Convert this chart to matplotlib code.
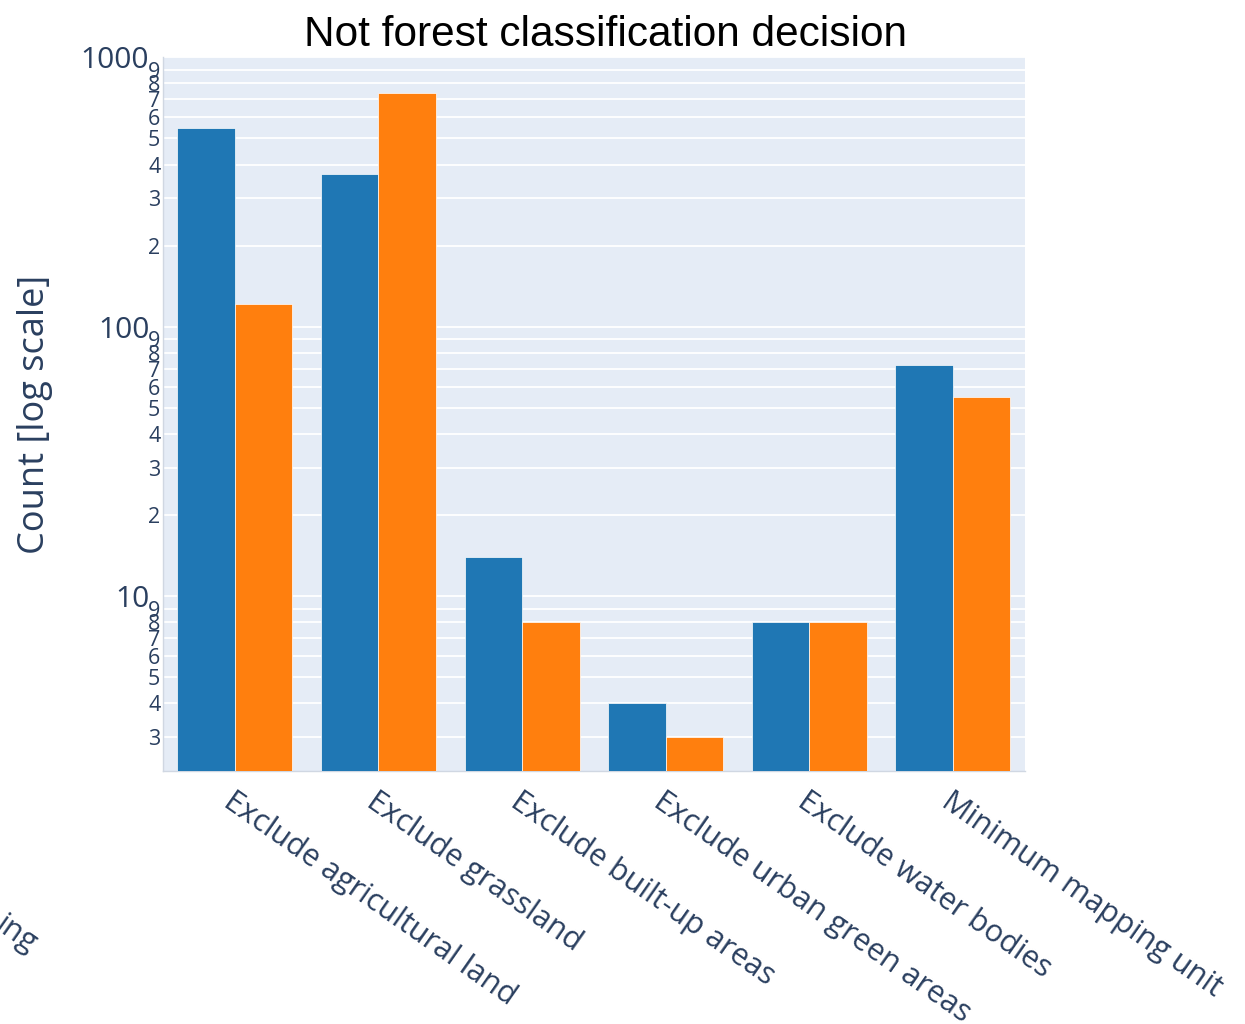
import numpy as np
import matplotlib.pyplot as plt

# categories and counts
categories = ["Exclude agricultural land", "Exclude grassland", "Exclude built-up areas",
              "Exclude urban green areas", "Exclude water bodies", "Minimum mapping unit"]
series_a = [546, 368, 14, 4, 8, 72]
series_b = [121, 735, 8, 3, 8, 55]
colors = ["#1f77b4", "#ff7f0e"]

major_ticks = [10, 100, 1000]
minor_ticks = [3, 4, 5, 6, 7, 8, 9,
               20, 30, 40, 50, 60, 70, 80, 90,
               200, 300, 400, 500, 600, 700, 800, 900]

txt = "#2a3f5f"
fig = plt.figure(figsize=(12.45, 10.24), dpi=100)
ax = fig.add_axes([0.131, 0.247, 0.692, 0.697])
ax.set_facecolor("#E5ECF6")

x = np.arange(len(categories))
w = 0.4
ax.bar(x - w / 2, series_a, width=w, color=colors[0], edgecolor="white", linewidth=0.5, zorder=3)
ax.bar(x + w / 2, series_b, width=w, color=colors[1], edgecolor="white", linewidth=0.5, zorder=3)

ax.set_yscale("log")
ax.set_ylim(10 ** 0.351, 1000)
ax.set_xlim(-0.5, len(categories) - 0.5)

ax.set_yticks(major_ticks)
ax.set_yticklabels([str(t) for t in major_ticks], fontsize=21.5, color=txt, family="Open Sans")
ax.set_yticks(minor_ticks, minor=True)
ax.set_yticklabels([str(t)[0] for t in minor_ticks], minor=True, fontsize=15.5, color=txt,
                   family="Open Sans")
ax.tick_params(axis="y", which="major", length=0, pad=10)
ax.tick_params(axis="y", which="minor", length=0, pad=2)
ax.grid(True, which="both", axis="y", color="white", linewidth=1.3, zorder=0)
ax.set_axisbelow(True)

ax.set_xticks(x)
ax.set_xticklabels(categories, rotation=-35, ha="left", va="top", rotation_mode="anchor",
                   fontsize=22, color=txt, family="Open Sans")
ax.tick_params(axis="x", length=0, pad=11)

for s in ["top", "right"]:
    ax.spines[s].set_visible(False)
for s in ["left", "bottom"]:
    ax.spines[s].set_color("#d0d7e2")
    ax.spines[s].set_linewidth(1)

ax.set_ylabel("Count [log scale]", fontsize=26, color=txt, family="Open Sans", labelpad=20)
ax.set_title("Not forest classification decision", fontsize=30.5, color="black",
             family="Liberation Sans", pad=8, x=0.513)

# clipped label fragment at the bottom-left edge
fig.text(0.013, 0.087, "ing", rotation=-35, fontsize=22, color=txt, family="Open Sans",
         ha="center", va="center", rotation_mode="anchor")

fig.savefig("out.png", dpi=100)
